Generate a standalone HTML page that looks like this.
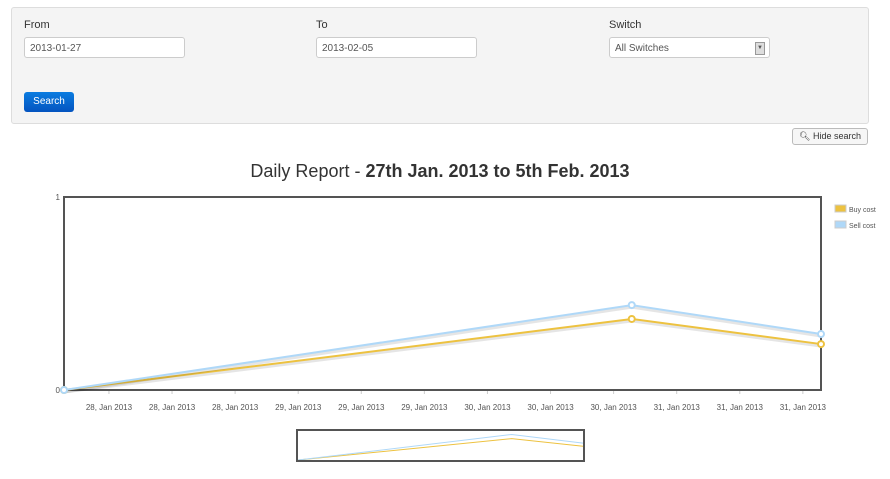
<!DOCTYPE html>
<html><head><meta charset="utf-8"><style>
body{margin:0;width:890px;height:479px;background:#fff;font-family:"Liberation Sans",sans-serif;position:relative;overflow:hidden}
.panel{position:absolute;left:11px;top:7px;width:856px;height:115px;background:#f4f4f4;border:1px solid #ddd;border-radius:3px}
.lbl{position:absolute;font-size:11px;color:#333}
.inp{position:absolute;width:154px;height:19px;background:#fff;border:1px solid #ccc;border-radius:3px;font-size:10px;color:#555;line-height:21px;padding-left:5px;box-sizing:content-box}
.btn{position:absolute;left:24px;top:92px;width:50px;height:20px;background:linear-gradient(#0a7ce0,#0454c0);border-radius:3px;color:#fff;font-size:10px;line-height:20px;text-align:center}
.hide{position:absolute;left:792px;top:128px;width:74px;height:15px;border:1px solid #bbb;border-radius:3px;background:#f6f6f6;font-size:9px;line-height:15px;text-align:center;color:#333}
.title{position:absolute;left:0;width:880px;top:161px;text-align:center;font-size:18px;color:#333}
</style></head><body>
<div class="panel"></div>
<div class="lbl" style="left:24px;top:19px">From</div>
<div class="inp" style="left:24px;top:37px">2013-01-27</div>
<div class="lbl" style="left:316px;top:19px">To</div>
<div class="inp" style="left:316px;top:37px">2013-02-05</div>
<div class="lbl" style="left:609px;top:19px">Switch</div>
<div class="inp" style="left:609px;top:37px;width:154px">All Switches<span style="position:absolute;right:4px;top:4px;width:8px;height:11px;background:#ddd;border:1px solid #999;font-size:6px;line-height:11px;text-align:center">▼</span></div>
<div class="btn">Search</div>
<div class="hide">&#x1F50D;&#xFE0E; Hide search</div>
<div class="title">Daily Report - <b>27th Jan. 2013 to 5th Feb. 2013</b></div>
<svg id="chart" width="890" height="479" style="position:absolute;left:0;top:0"></svg>
<script>
const hours=[0,72,96];
const buyCost=[0,0.368,0.238];
const sellCost=[0,0.44,0.29];
const tickHours=[5.7,13.7,21.7,29.7,37.7,45.7,53.7,61.7,69.7,77.7,85.7,93.7];
const tickLabels=["28, Jan 2013","28, Jan 2013","28, Jan 2013","29, Jan 2013","29, Jan 2013","29, Jan 2013","30, Jan 2013","30, Jan 2013","30, Jan 2013","31, Jan 2013","31, Jan 2013","31, Jan 2013"];
const yTicks=[0,1];
const seriesNames=["Buy cost","Sell cost"];
const NS="http://www.w3.org/2000/svg";
const svg=document.getElementById('chart');
function mk(t,a,p){const e=document.createElementNS(NS,t);for(const k in a)e.setAttribute(k,a[k]);(p||svg).appendChild(e);return e;}
const L=64,R=821,T=197,B=390;
const x=h=>L+(h-0)/(96-0)*(R-L);
const y=v=>B-v*(B-T);
const oL=298,oR=583,oT=431,oB=460;
const ox=h=>oL+h/96*(oR-oL);
const oy=v=>oB-v/0.5*(oB-oT);
tickHours.forEach((h,i)=>{
  const t=mk('line',{x1:x(h),x2:x(h),y1:B,y2:B+4,stroke:'#ccc'});
  
  
  const tx=mk('text',{x:x(h),y:B+20,'font-size':8,fill:'#545454','text-anchor':'middle','font-family':'Liberation Sans'});
  tx.textContent=tickLabels[i];
  
  
});
yTicks.forEach(v=>{
  const tx=mk('text',{x:L-4,y:y(v)+3,'font-size':8,fill:'#545454','text-anchor':'end','font-family':'Liberation Sans'});
  tx.textContent=v;
  
  
});
const frame=mk('rect',{x:L,y:T,width:R-L,height:B-T,fill:'none',stroke:'#545454','stroke-width':2});


const cols=['#edc240','#afd8f8'];
[buyCost,sellCost].forEach((s,si)=>{
  const pts=hours.map((h,i)=>x(h)+','+y(s[i])).join(' ');
  const sh=mk('polyline',{points:hours.map((h,i)=>x(h)+','+(y(s[i])+2)).join(' '),fill:'none',stroke:'rgba(0,0,0,0.1)','stroke-width':3});
  
  
  const pl=mk('polyline',{points:pts,fill:'none',stroke:cols[si],'stroke-width':2});
  
  
  hours.forEach((h,i)=>{
    const c=mk('circle',{cx:x(h),cy:y(s[i]),r:3,fill:'#fff',stroke:cols[si],'stroke-width':2});
    
    
  });
  const op=mk('polyline',{points:hours.map((h,i)=>ox(h)+','+oy(s[i])).join(' '),fill:'none',stroke:cols[si],'stroke-width':1});
  
  
  const lg=mk('rect',{x:835,y:205+si*16,width:11,height:7,fill:cols[si],stroke:'#ccc'});
  
  
  const lt=mk('text',{x:849,y:212+si*16,'font-size':7,fill:'#545454','font-family':'Liberation Sans'});
  lt.textContent=seriesNames[si];
  
  
});
const ov=mk('rect',{x:oL-1,y:oT-1,width:oR-oL+2,height:oB-oT+2,fill:'none',stroke:'#545454','stroke-width':2});


</script>
</body></html>
